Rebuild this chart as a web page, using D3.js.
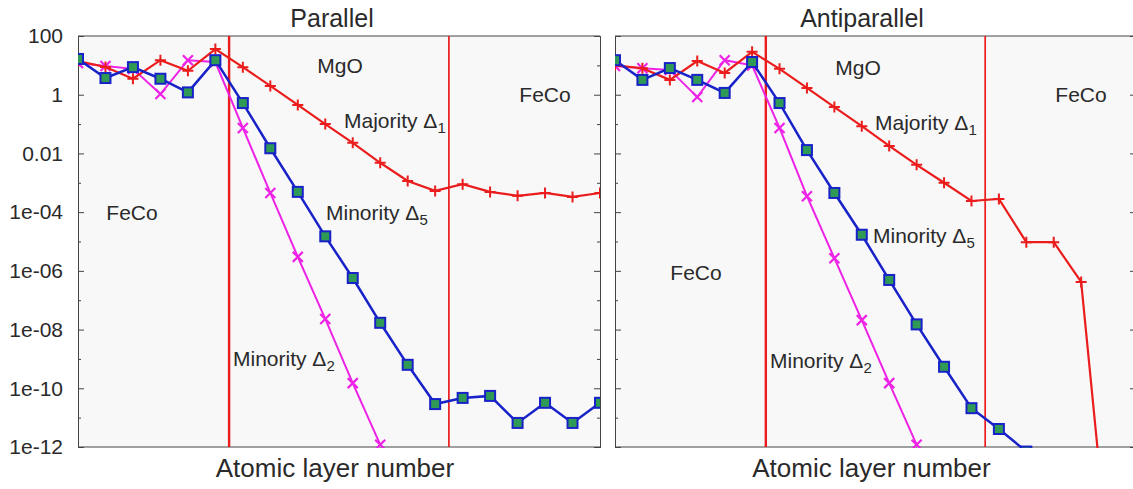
<!DOCTYPE html>
<html>
<head>
<meta charset="utf-8">
<script src="https://cdn.jsdelivr.net/npm/d3@7"></script>
<style>
  body { margin: 0; background: #fff; }
  text { font-family: "Liberation Sans", Arial, sans-serif; fill: #2a2a2a; }
</style>
</head>
<body>
<script>
// atomic layer index 0..19 ; MgO sits between 5.5 and 13.5
const layers = d3.range(20);
const interfaces = [5.5, 13.5];

// Parallel configuration
const parMajority1 = [14, 8.8, 3.5, 15, 6.5, 36, 8.7, 2.0, 0.45, 0.1, 0.023, 0.0048, 0.00115, 5.3e-4, 9e-4, 4.9e-4, 3.6e-4, 4.5e-4, 3.3e-4, 4.5e-4];
const parMinority5 = [16.5, 3.7, 8.7, 3.5, 1.2, 15, 0.52, 0.015, 4.9e-4, 1.5e-5, 5.7e-7, 1.7e-8, 6.3e-10, 2.9e-11, 4.7e-11, 5.5e-11, 6.6e-12, 3.2e-11, 6.6e-12, 3.2e-11];
const parMinority2 = [12, 9.5, 7.6, 1.05, 15, 13, 0.074, 4.5e-4, 3e-6, 2.3e-8, 1.5e-10, 1.2e-12];

// Antiparallel configuration
const antiMajority1 = [10, 8, 3.2, 14, 5.5, 29, 7.6, 1.7, 0.38, 0.085, 0.018, 0.0041, 0.001, 2.4e-4, 2.8e-4, 9.5e-6, 9.5e-6, 4.2e-7, 1.3e-16];
const antiMinority5 = [15, 3.2, 8.1, 3.2, 1.15, 13, 0.52, 0.013, 4.5e-4, 1.7e-5, 4.9e-7, 1.5e-8, 5.4e-10, 2.1e-11, 4.1e-12, 7e-13];
const antiMinority2 = [9.5, 8, 7, 0.83, 15, 10, 0.074, 3.5e-4, 2.7e-6, 2.1e-8, 1.5e-10, 1.2e-12];

const majorTicks = [100, 1, 1e-2, 1e-4, 1e-6, 1e-8, 1e-10, 1e-12];
const majorLabels = ["100", "1", "0.01", "1e-04", "1e-06", "1e-08", "1e-10", "1e-12"];
const minorTicks = [10, 0.1, 1e-3, 1e-5, 1e-7, 1e-9, 1e-11];

const red = "#ea1c1c", blue = "#1822c8", magenta = "#ee22e6", green = "#2f9a55";

const svg = d3.select("body").append("svg")
  .attr("width", 1133).attr("height", 489);

const plotTop = 36, plotBottom = 447;

const panels = [
  { name: "par", title: "Parallel", x0: 78, x1: 600, titleX: 332, labels: true,
    major: parMajority1, min5: parMinority5, min2: parMinority2,
    text: [
      ["MgO", 340, 73], ["FeCo", 132, 220], ["FeCo", 545, 102],
      ["Majority Δ", 344, 128, "1"], ["Minority Δ", 326, 220, "5"], ["Minority Δ", 233, 366, "2"]
    ] },
  { name: "anti", title: "Antiparallel", x0: 615, x1: 1136, titleX: 862, labels: false,
    major: antiMajority1, min5: antiMinority5, min2: antiMinority2,
    text: [
      ["MgO", 858, 75], ["FeCo", 696, 280], ["FeCo", 1081, 102],
      ["Majority Δ", 875, 130, "1"], ["Minority Δ", 873, 243, "5"], ["Minority Δ", 770, 368, "2"]
    ] }
];

panels.forEach(p => {
  const x = d3.scaleLinear().domain([0, 19]).range([p.x0, p.x1]);
  const y = d3.scaleLog().domain([1e-12, 100]).range([plotBottom, plotTop]);
  const g = svg.append("g");

  g.append("rect")
    .attr("x", p.x0).attr("y", plotTop)
    .attr("width", p.x1 - p.x0).attr("height", plotBottom - plotTop)
    .attr("fill", "#f8f8f8");

  g.append("clipPath").attr("id", "clip-" + p.name)
    .append("rect")
    .attr("x", p.x0).attr("y", plotTop)
    .attr("width", p.x1 - p.x0).attr("height", plotBottom - plotTop + 1);

  // axes, ticks pointing inward
  const leftMajor = d3.axisLeft(y).tickValues(majorTicks).tickSize(-6).tickPadding(15)
    .tickFormat((d, i) => p.labels ? majorLabels[i] : "");
  const leftMinor = d3.axisLeft(y).tickValues(minorTicks).tickSize(-3).tickFormat("");
  const rightMajor = d3.axisRight(y).tickValues(majorTicks).tickSize(-6).tickFormat("");
  const rightMinor = d3.axisRight(y).tickValues(minorTicks).tickSize(-3).tickFormat("");

  [[leftMajor, p.x0], [leftMinor, p.x0], [rightMajor, p.x1], [rightMinor, p.x1]].forEach(([ax, xp]) => {
    const a = g.append("g").attr("transform", `translate(${xp},0)`).call(ax);
    a.select(".domain").attr("stroke", "#444");
    a.selectAll(".tick line").attr("stroke", "#444");
    a.selectAll(".tick text").style("font-size", "21px").attr("fill", "#2a2a2a");
  });

  g.append("line").attr("x1", p.x0).attr("x2", p.x1).attr("y1", plotTop).attr("y2", plotTop)
    .attr("stroke", "#444");
  g.append("line").attr("x1", p.x0).attr("x2", p.x1).attr("y1", plotBottom).attr("y2", plotBottom)
    .attr("stroke", "#444");

  const plot = g.append("g").attr("clip-path", `url(#clip-${p.name})`);

  // interface lines
  plot.selectAll(".iface").data(interfaces).enter().append("line")
    .attr("x1", d => x(d)).attr("x2", d => x(d))
    .attr("y1", plotTop).attr("y2", plotBottom)
    .attr("stroke", red).attr("stroke-width", (d, i) => i === 0 ? 2.4 : 1.7);

  const line = d3.line().x((d, i) => x(layers[i])).y(d => y(d));

  const series = [
    { vals: p.min2, color: magenta, mark: "x", w: 2 },
    { vals: p.major, color: red, mark: "+", w: 2.2 },
    { vals: p.min5, color: blue, mark: "sq", w: 2.5 }
  ];

  series.forEach(s => {
    plot.append("path").datum(s.vals)
      .attr("d", line).attr("fill", "none")
      .attr("stroke", s.color).attr("stroke-width", s.w);

    const pts = plot.selectAll(null).data(s.vals).enter().append("g")
      .attr("transform", (d, i) => `translate(${x(layers[i])},${y(d)})`);

    if (s.mark === "sq") {
      pts.append("rect").attr("x", -5).attr("y", -5).attr("width", 10).attr("height", 10)
        .attr("fill", green).attr("stroke", blue).attr("stroke-width", 2);
    } else if (s.mark === "+") {
      pts.append("path").attr("d", "M-5.5,0H5.5M0,-5.5V5.5")
        .attr("stroke", s.color).attr("stroke-width", 2);
    } else {
      pts.append("path").attr("d", "M-5,-5L5,5M-5,5L5,-5")
        .attr("stroke", s.color).attr("stroke-width", 2.2);
    }
  });

  // annotations
  p.text.forEach(t => {
    const tx = g.append("text").attr("x", t[1]).attr("y", t[2])
      .style("font-size", "21px");
    tx.append("tspan").text(t[0]);
    if (t[3]) tx.append("tspan").attr("dy", 5).style("font-size", "15px").text(t[3]);
    if (!t[3]) tx.attr("text-anchor", "middle");
  });

  svg.append("text").attr("x", p.titleX).attr("y", 27)
    .attr("text-anchor", "middle").style("font-size", "25px").attr("fill", "#111")
    .text(p.title);

  svg.append("text").attr("x", (p.x0 + p.x1) / 2 - 4).attr("y", 477)
    .attr("text-anchor", "middle").style("font-size", "26px").attr("fill", "#111")
    .text("Atomic layer number");
});
</script>
</body>
</html>
